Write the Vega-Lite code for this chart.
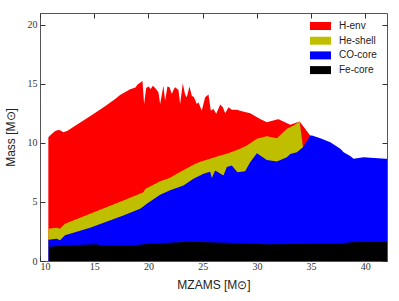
{
  "$schema": "https://vega.github.io/schema/vega-lite/v6.json",
  "width": 347,
  "height": 248,
  "autosize": {"type": "none"},
  "padding": {"left": 40, "top": 13, "right": 12, "bottom": 40},
  "background": "white",
  "config": {
    "view": {"stroke": "#555555", "strokeWidth": 1},
    "axis": {
      "grid": false,
      "domain": false,
      "tickSize": -5,
      "tickColor": "#333333",
      "tickWidth": 1,
      "labelFont": "Liberation Serif",
      "labelFontSize": 10,
      "labelColor": "#333333",
      "labelPadding": 8,
      "titleFont": "Liberation Sans",
      "titleFontSize": 12,
      "titleFontWeight": "normal",
      "titleColor": "#222222"
    },
    "legend": {
      "orient": "none",
      "legendX": 273.5,
      "legendY": 6,
      "padding": 0,
      "title": null,
      "symbolType": "M-1.5,-0.57H1.5V0.57H-1.5Z",
      "symbolSize": 196,
      "symbolStrokeWidth": 0,
      "symbolOpacity": 1,
      "labelFont": "Liberation Sans",
      "labelFontSize": 10,
      "labelColor": "#222222",
      "labelOffset": 11.5,
      "rowPadding": 2.7
    }
  },
  "datasets": {
    "env": [
      {"m": 10.77, "v": 10.48}, {"m": 11.0, "v": 10.7}, {"m": 11.4, "v": 11.0}, {"m": 11.69, "v": 11.1},
      {"m": 11.9, "v": 11.05}, {"m": 12.15, "v": 10.9}, {"m": 12.5, "v": 11.0}, {"m": 13.0, "v": 11.3},
      {"m": 14.0, "v": 11.9}, {"m": 15.0, "v": 12.5}, {"m": 16.0, "v": 13.1}, {"m": 17.0, "v": 13.75},
      {"m": 17.38, "v": 14.05}, {"m": 18.31, "v": 14.55}, {"m": 18.8, "v": 14.7}, {"m": 19.0, "v": 14.95},
      {"m": 19.23, "v": 15.1}, {"m": 19.45, "v": 15.25}, {"m": 19.6, "v": 13.3}, {"m": 19.79, "v": 14.65},
      {"m": 20.0, "v": 14.77}, {"m": 20.22, "v": 14.57}, {"m": 20.4, "v": 14.85}, {"m": 20.62, "v": 14.65},
      {"m": 20.92, "v": 14.29}, {"m": 21.08, "v": 13.3}, {"m": 21.38, "v": 14.85}, {"m": 21.54, "v": 13.58},
      {"m": 21.75, "v": 14.77}, {"m": 21.94, "v": 14.71}, {"m": 22.16, "v": 14.15}, {"m": 22.31, "v": 14.49},
      {"m": 22.46, "v": 14.71}, {"m": 22.77, "v": 14.49}, {"m": 22.92, "v": 13.3}, {"m": 23.17, "v": 15.05},
      {"m": 23.38, "v": 14.09}, {"m": 23.54, "v": 13.86}, {"m": 23.78, "v": 14.77}, {"m": 24.0, "v": 14.0},
      {"m": 24.2, "v": 13.86}, {"m": 24.46, "v": 13.3}, {"m": 24.6, "v": 13.44}, {"m": 24.92, "v": 12.74},
      {"m": 25.23, "v": 13.86}, {"m": 25.54, "v": 14.09}, {"m": 25.75, "v": 12.74}, {"m": 26.0, "v": 12.88},
      {"m": 26.25, "v": 12.46}, {"m": 26.62, "v": 13.25}, {"m": 26.86, "v": 13.02}, {"m": 27.08, "v": 12.51},
      {"m": 27.38, "v": 13.02}, {"m": 27.69, "v": 12.8}, {"m": 28.15, "v": 12.8}, {"m": 28.62, "v": 12.68},
      {"m": 29.38, "v": 12.51}, {"m": 30.3, "v": 12.03}, {"m": 30.92, "v": 11.75}, {"m": 31.85, "v": 11.98},
      {"m": 32.0, "v": 12.0}, {"m": 33.08, "v": 11.53}, {"m": 33.94, "v": 11.81}, {"m": 34.92, "v": 10.63}
    ],
    "he": [
      {"m": 10.77, "v": 2.74}, {"m": 11.54, "v": 2.82}, {"m": 11.85, "v": 2.74}, {"m": 12.31, "v": 3.16},
      {"m": 14.62, "v": 4.0}, {"m": 17.69, "v": 5.13}, {"m": 19.54, "v": 5.83}, {"m": 19.7, "v": 6.1},
      {"m": 21.08, "v": 6.75}, {"m": 22.0, "v": 7.05}, {"m": 22.62, "v": 7.39}, {"m": 24.15, "v": 8.15},
      {"m": 24.77, "v": 8.4}, {"m": 25.69, "v": 8.66}, {"m": 26.62, "v": 8.93}, {"m": 27.23, "v": 9.08},
      {"m": 28.46, "v": 9.5}, {"m": 29.08, "v": 9.78}, {"m": 30.0, "v": 10.35}, {"m": 30.92, "v": 10.57},
      {"m": 31.85, "v": 10.4}, {"m": 32.77, "v": 11.19}, {"m": 33.38, "v": 11.47}, {"m": 33.94, "v": 11.81},
      {"m": 34.25, "v": 9.64}
    ],
    "co": [
      {"m": 10.77, "v": 1.81}, {"m": 11.54, "v": 1.89}, {"m": 11.85, "v": 1.75}, {"m": 12.31, "v": 2.17},
      {"m": 14.62, "v": 2.82}, {"m": 17.69, "v": 3.86}, {"m": 19.23, "v": 4.43}, {"m": 19.5, "v": 4.6},
      {"m": 19.85, "v": 4.85}, {"m": 21.08, "v": 5.6}, {"m": 22.0, "v": 6.0}, {"m": 23.23, "v": 6.4},
      {"m": 24.15, "v": 6.96}, {"m": 25.08, "v": 7.39}, {"m": 25.69, "v": 7.55}, {"m": 25.85, "v": 7.02},
      {"m": 26.15, "v": 7.67}, {"m": 26.92, "v": 7.24}, {"m": 27.23, "v": 7.95}, {"m": 27.69, "v": 8.09},
      {"m": 28.2, "v": 7.52}, {"m": 28.92, "v": 7.6}, {"m": 29.38, "v": 8.37}, {"m": 30.0, "v": 9.12},
      {"m": 30.92, "v": 8.55}, {"m": 31.85, "v": 8.43}, {"m": 32.77, "v": 8.79}, {"m": 33.08, "v": 9.05},
      {"m": 33.69, "v": 9.21}, {"m": 34.25, "v": 9.64}, {"m": 34.92, "v": 10.63}, {"m": 35.08, "v": 10.63},
      {"m": 35.85, "v": 10.4}, {"m": 36.77, "v": 10.06}, {"m": 37.69, "v": 9.5}, {"m": 38.0, "v": 9.21},
      {"m": 38.6, "v": 8.9}, {"m": 38.92, "v": 8.66}, {"m": 39.85, "v": 8.79}, {"m": 40.5, "v": 8.75},
      {"m": 41.85, "v": 8.66}, {"m": 42.0, "v": 8.65}
    ],
    "fe": [
      {"m": 10.83, "v": 1.2}, {"m": 12.0, "v": 1.3}, {"m": 12.46, "v": 1.33}, {"m": 14.0, "v": 1.38},
      {"m": 15.23, "v": 1.42}, {"m": 15.5, "v": 1.33}, {"m": 18.6, "v": 1.33}, {"m": 20.15, "v": 1.47},
      {"m": 23.2, "v": 1.6}, {"m": 24.77, "v": 1.6}, {"m": 27.85, "v": 1.52}, {"m": 30.92, "v": 1.41},
      {"m": 34.0, "v": 1.45}, {"m": 37.08, "v": 1.47}, {"m": 39.08, "v": 1.6}, {"m": 42.0, "v": 1.6}
    ]
  },
  "layer": [
    {
      "data": {"name": "env"},
      "mark": {"type": "area", "interpolate": "linear"},
      "encoding": {
        "x": {"field": "m", "type": "quantitative", "scale": {"domain": [10, 42], "nice": false, "zero": false},
              "axis": {"orient": "bottom", "values": [10, 15, 20, 25, 30, 35, 40], "title": "MZAMS [M⊙]", "titlePadding": 8, "labelPadding": 5}},
        "y": {"field": "v", "type": "quantitative", "stack": null, "scale": {"domain": [0, 21], "nice": false},
              "axis": {"orient": "left", "values": [0, 5, 10, 15, 20], "title": "Mass [M⊙]", "titlePadding": 10}},
        "color": {"datum": "H-env", "type": "nominal",
                  "scale": {"domain": ["H-env", "He-shell", "CO-core", "Fe-core"], "range": ["#ff0000", "#bfbf00", "#0000ff", "#000000"]}}
      }
    },
    {
      "data": {"name": "he"},
      "mark": {"type": "area", "interpolate": "linear"},
      "encoding": {
        "x": {"field": "m", "type": "quantitative", "axis": null},
        "y": {"field": "v", "type": "quantitative", "stack": null, "axis": null},
        "color": {"datum": "He-shell", "type": "nominal"}
      }
    },
    {
      "data": {"name": "co"},
      "mark": {"type": "area", "interpolate": "linear"},
      "encoding": {
        "x": {"field": "m", "type": "quantitative", "axis": null},
        "y": {"field": "v", "type": "quantitative", "stack": null, "axis": null},
        "color": {"datum": "CO-core", "type": "nominal"}
      }
    },
    {
      "data": {"name": "fe"},
      "mark": {"type": "area", "interpolate": "linear"},
      "encoding": {
        "x": {"field": "m", "type": "quantitative",
              "axis": {"orient": "top", "values": [10, 15, 20, 25, 30, 35, 40], "labels": false, "title": null}},
        "y": {"field": "v", "type": "quantitative", "stack": null,
              "axis": {"orient": "right", "values": [0, 5, 10, 15, 20], "labels": false, "title": null}},
        "color": {"datum": "Fe-core", "type": "nominal"}
      }
    }
  ],
  "resolve": {"axis": {"x": "independent", "y": "independent"}}
}
